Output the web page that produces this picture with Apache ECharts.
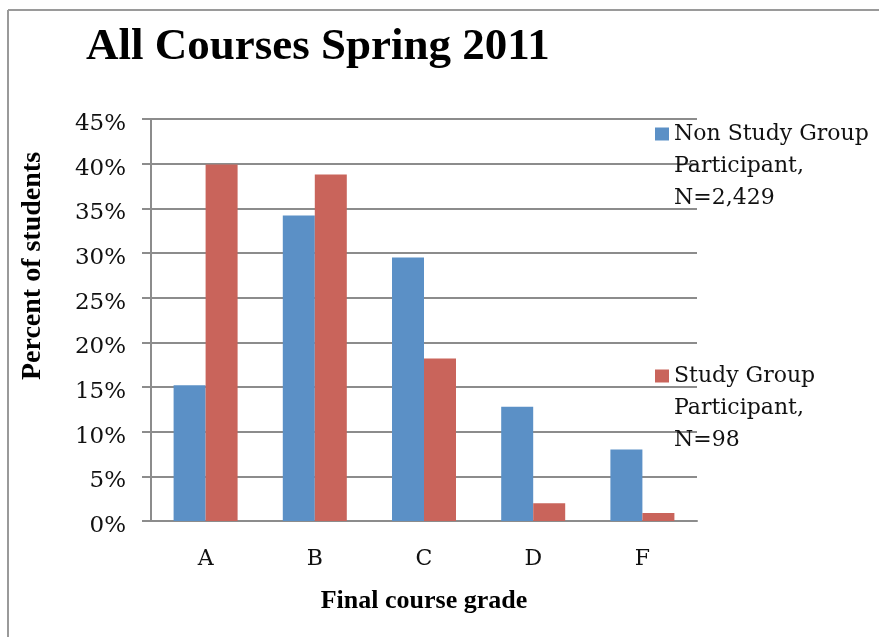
<!DOCTYPE html>
<html>
<head>
<meta charset="utf-8">
<script src="https://cdn.jsdelivr.net/npm/echarts@6/dist/echarts.min.js"></script>
<style>html,body{margin:0;padding:0;background:#fff}#c{width:879px;height:637px}</style>
</head>
<body>
<div id="c"></div>
<script>
const titleText = 'All Courses Spring 2011';
const categories = ['A', 'B', 'C', 'D', 'F'];
const seriesNames = ['Non Study Group Participant, N=2,429', 'Study Group Participant, N=98'];
const legendLines = [['Non Study Group', 'Participant,', 'N=2,429'], ['Study Group', 'Participant,', 'N=98']];
const nonStudyGroup = [15.2, 34.2, 29.5, 12.8, 8.0];
const studyGroup = [39.9, 38.8, 18.2, 2.0, 0.9];
const yTicks = [0, 5, 10, 15, 20, 25, 30, 35, 40, 45];
const xAxisTitle = 'Final course grade';
const yAxisTitle = 'Percent of students';

const REG = 'DejaVu Serif';
const BOLD = 'Liberation Serif';
const GRID = '#8c8c8c';

const chart = echarts.init(document.getElementById('c'));
chart.setOption({
  backgroundColor: '#fff',
  animation: false,
  title: {
    text: titleText, left: 81, top: 20,
    textStyle: { fontFamily: BOLD, fontWeight: 'bold', fontSize: 45, color: '#000' }
  },
  legend: {
    orient: 'vertical', left: 655, top: 54, padding: 0,
    itemWidth: 14, itemHeight: 13, itemGap: 82,
    data: seriesNames,
    icon: 'rect',
    formatter: function (name) { return ' \n \n' + legendLines[seriesNames.indexOf(name)].join('\n'); },
    textStyle: { fontFamily: REG, fontSize: 22, color: '#111', lineHeight: 32 }
  },
  grid: { left: 151, right: 182, top: 119, bottom: 116, containLabel: false },
  xAxis: {
    type: 'category', data: categories,
    name: xAxisTitle, nameLocation: 'middle', nameGap: 67,
    nameTextStyle: { fontFamily: BOLD, fontWeight: 'bold', fontSize: 26, color: '#000' },
    axisLine: { show: true, lineStyle: { color: GRID, width: 2 } },
    axisTick: { show: false },
    axisLabel: { fontFamily: REG, fontSize: 22, color: '#111', margin: 27 }
  },
  yAxis: {
    type: 'value', min: yTicks[0], max: yTicks[yTicks.length - 1], interval: yTicks[1] - yTicks[0],
    name: yAxisTitle, nameLocation: 'middle', nameGap: 104,
    nameTextStyle: { fontFamily: BOLD, fontWeight: 'bold', fontSize: 28, color: '#000', padding: [0, 0, 0, 108] },
    axisLine: { show: true, lineStyle: { color: GRID, width: 2 } },
    axisTick: { show: true, length: 9, lineStyle: { color: GRID, width: 2 } },
    splitLine: { show: true, lineStyle: { color: GRID, width: 2 } },
    axisLabel: {
      margin: 25, formatter: '{t|{value}%}',
      rich: { t: { fontFamily: REG, fontSize: 23, color: '#111', padding: [10, 0, 0, 0] } }
    }
  },
  series: [
    { name: seriesNames[0], type: 'bar', data: nonStudyGroup, barWidth: 32, barGap: '0%',
      itemStyle: { color: '#5b90c6' } },
    { name: seriesNames[1], type: 'bar', data: studyGroup, barWidth: 32,
      itemStyle: { color: '#c9645b' } }
  ],
  graphic: [
    { type: 'line', shape: { x1: 8, y1: 10, x2: 879, y2: 10 }, style: { stroke: '#9a9a9a', lineWidth: 2 }, silent: true },
    { type: 'line', shape: { x1: 8, y1: 10, x2: 8, y2: 637 }, style: { stroke: '#9a9a9a', lineWidth: 2 }, silent: true }
  ]
});
</script>
</body>
</html>
